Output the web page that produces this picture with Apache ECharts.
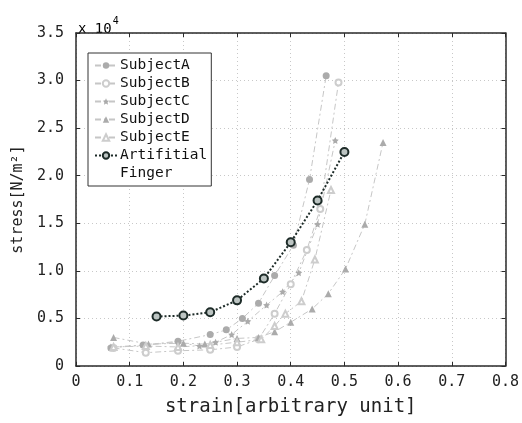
<!DOCTYPE html>
<html><head><meta charset="utf-8">
<script src="https://cdn.jsdelivr.net/npm/echarts@6/dist/echarts.min.js"></script>
<style>html,body{margin:0;padding:0;background:#fff}#c{width:522px;height:423px}</style>
</head><body><div id="c"></div>
<script>
// stress values in units of 1e4 N/m^2
const xTicks = [0, 0.1, 0.2, 0.3, 0.4, 0.5, 0.6, 0.7, 0.8];
const yTicks = [0, 0.5, 1.0, 1.5, 2.0, 2.5, 3.0, 3.5];
const subjectA = [[0.065,0.19],[0.125,0.22],[0.19,0.26],[0.25,0.33],[0.28,0.38],[0.31,0.50],[0.34,0.66],[0.37,0.95],[0.405,1.27],[0.435,1.96],[0.466,3.05]];
const subjectB = [[0.07,0.19],[0.13,0.14],[0.19,0.16],[0.25,0.17],[0.30,0.20],[0.34,0.28],[0.37,0.55],[0.40,0.86],[0.43,1.22],[0.455,1.65],[0.489,2.98]];
const subjectC = [[0.065,0.20],[0.13,0.22],[0.19,0.25],[0.23,0.21],[0.26,0.25],[0.29,0.33],[0.32,0.47],[0.355,0.64],[0.385,0.78],[0.415,0.98],[0.45,1.49],[0.483,2.37]];
const subjectD = [[0.07,0.30],[0.135,0.23],[0.20,0.24],[0.24,0.23],[0.30,0.29],[0.34,0.30],[0.37,0.36],[0.40,0.46],[0.44,0.60],[0.47,0.76],[0.502,1.02],[0.538,1.49],[0.572,2.35]];
const subjectE = [[0.07,0.20],[0.13,0.21],[0.19,0.20],[0.25,0.22],[0.30,0.25],[0.345,0.28],[0.37,0.42],[0.39,0.55],[0.42,0.68],[0.445,1.12],[0.475,1.85]];
const finger = [[0.15,0.52],[0.20,0.53],[0.25,0.565],[0.30,0.69],[0.35,0.92],[0.40,1.30],[0.45,1.74],[0.50,2.25]];
const names = ['SubjectA','SubjectB','SubjectC','SubjectD','SubjectE','Artifitial','Finger'];

const MONO = '"DejaVu Sans Mono","Liberation Mono",monospace';
const gray = '#ababab', lightGray = '#cdcdcd', lineGray = '#c6c6c6', dark = '#1d2b28';
const star = 'path://M0,-10L2.9,-4L9.5,-3.1L4.7,1.5L5.9,8.1L0,5L-5.9,8.1L-4.7,1.5L-9.5,-3.1L-2.9,-4Z';
const symbols = { SubjectA: ['circle', true], SubjectB: ['emptyCircle', false], SubjectC: [star, true],
  SubjectD: ['triangle', true], SubjectE: ['emptyTriangle', false] };
function subj(name, data) {
  const [symbol, filled] = symbols[name];
  return {
    name, type: 'line', data, symbol, symbolSize: filled ? 7 : 6,
    lineStyle: { color: lineGray, width: 1, type: [6,3,2,3] },
    itemStyle: { color: filled ? gray : lightGray, borderWidth: filled ? 0 : 1 },
    emphasis: { disabled: true }, z: 3
  };
}
const chart = echarts.init(document.getElementById('c'));
const axisCommon = {
  type: 'value', axisLine: { show: true, onZero: false, lineStyle: { color: '#2a2a2a', width: 1.5 } },
  axisTick: { show: true, inside: true, length: 4, lineStyle: { color: '#2a2a2a' } },
};
function legendItem(n) {
  if (n === 'Finger') return { name: n, icon: 'none' };
  return { name: n };
}
chart.setOption({
  animation: false,
  grid: { left: 76, right: 14, top: 33, bottom: 57 },
  xAxis: [
    Object.assign({}, axisCommon, {
      min: 0, max: 0.8, interval: 0.1, position: 'bottom',
      name: 'strain[arbitrary unit]', nameLocation: 'middle', nameGap: 32,
      nameTextStyle: { fontFamily: MONO, fontSize: 19, color: '#222' },
      axisLabel: { fontFamily: MONO, fontSize: 15, color: '#222', margin: 9,
        formatter: v => (v === 0 ? '0' : v.toFixed(1)) },
      splitLine: { show: true, lineStyle: { color: '#c8c8c8', type: [1,3], width: 1 } }
    }),
    Object.assign({}, axisCommon, { min: 0, max: 0.8, interval: 0.1, position: 'top',
      axisLabel: { show: false }, splitLine: { show: false } })
  ],
  yAxis: [
    Object.assign({}, axisCommon, {
      min: 0, max: 3.5, interval: 0.5, position: 'left',
      name: 'stress[N/m²]', nameLocation: 'middle', nameGap: 46,
      nameTextStyle: { fontFamily: MONO, fontSize: 15, color: '#222' },
      axisLabel: { fontFamily: MONO, fontSize: 15, color: '#222', margin: 12,
        formatter: v => (v === 0 ? '0' : v.toFixed(1)) },
      splitLine: { show: true, lineStyle: { color: '#c8c8c8', type: [1,3], width: 1 } }
    }),
    Object.assign({}, axisCommon, { min: 0, max: 3.5, interval: 0.5, position: 'right',
      axisLabel: { show: false }, splitLine: { show: false } })
  ],
  legend: {
    orient: 'vertical', left: 88, top: 53,
    padding: [5, 4, 5, 6], itemGap: 3, itemWidth: 22, itemHeight: 8,
    backgroundColor: '#fff', borderColor: '#333', borderWidth: 1,
    textStyle: { fontFamily: MONO, fontSize: 14.5, color: '#111', padding: [0,0,0,-2] },
    data: names.map(legendItem)
  },
  graphic: [{
    type: 'text', left: 78, top: 16,
    style: { text: '{a|x 10}{b|4}', rich: {
      a: { fontFamily: MONO, fontSize: 14, color: '#222', padding: [6,0,0,0] },
      b: { fontFamily: MONO, fontSize: 10, color: '#222', verticalAlign: 'top', padding: [0,0,0,1] } } }
  }],
  series: [
    subj('SubjectA', subjectA),
    subj('SubjectB', subjectB),
    subj('SubjectC', subjectC),
    subj('SubjectD', subjectD),
    subj('SubjectE', subjectE),
    {
      name: 'Artifitial', type: 'line', data: finger, symbol: 'circle', symbolSize: 8,
      lineStyle: { color: dark, width: 2, type: [2,2] },
      itemStyle: { color: '#bcc4c2', borderColor: dark, borderWidth: 2 },
      emphasis: { disabled: true }, z: 5
    },
    { name: 'Finger', type: 'line', data: [], symbol: 'none', lineStyle: { opacity: 0 } }
  ]
});
</script></body></html>
